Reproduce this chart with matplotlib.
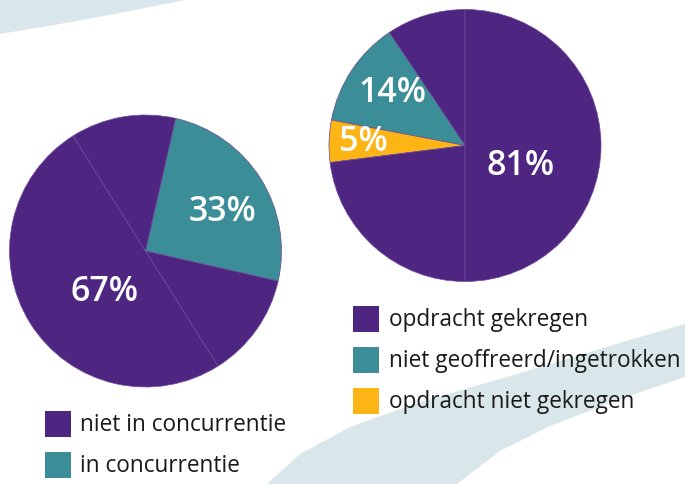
import matplotlib.pyplot as plt
from matplotlib.patches import Polygon, Rectangle

purple = '#4f2582'
teal = '#3b8d97'
yellow = '#fdb515'
band = '#d9e6ea'

# left pie: concurrentie
left_names = ['niet in concurrentie', 'in concurrentie']
left_pct = ['67%', '33%']
# wedge shares as drawn (clockwise, starting with the teal wedge)
left_shares = [25, 12.5, 50, 12.5]
left_colors = [teal, purple, purple, purple]

# right pie: result of the offer
right_names = ['opdracht gekregen', 'niet geoffreerd/ingetrokken', 'opdracht niet gekregen']
right_pct = ['81%', '14%', '5%']
# wedge shares as drawn (counter clockwise from the top)
right_shares = [9.4, 12.6, 5, 23, 50]
right_colors = [purple, teal, yellow, purple, purple]

H = 485


def flip(pts):
    return [(x, H - y) for x, y in pts]


fig = plt.figure(figsize=(6.85, 4.85), dpi=100)
ax = fig.add_axes([0, 0, 1, 1])

# background swooshes
top_band = [(0, 0), (190, 0), (120, 14), (60, 25), (0, 35)]
low_band = [(267, 485), (300, 455), (350, 428), (420, 403), (500, 380), (580, 356),
            (633, 340), (685, 325), (685, 378), (620, 400), (550, 427), (500, 452), (457, 485)]
ax.add_patch(Polygon(flip(top_band), closed=True, facecolor=band, edgecolor='none', zorder=0))
ax.add_patch(Polygon(flip(low_band), closed=True, facecolor=band, edgecolor='none', zorder=0))

edge = dict(edgecolor='#6a4b98', linewidth=0.5)
ax.pie(left_shares, colors=left_colors, startangle=77.2, counterclock=False,
       center=(145.5, H - 252), radius=136, wedgeprops=edge, frame=True)
ax.pie(right_shares, colors=right_colors, startangle=90, counterclock=True,
       center=(465, H - 146.5), radius=136, wedgeprops=edge, frame=True)

pct_font = dict(color='white', fontsize=24.5, fontweight='semibold', family='Open Sans',
                ha='center', va='center')
ax.text(223, H - 212, left_pct[1], **pct_font)
ax.text(104, H - 292, left_pct[0], **pct_font)
ax.text(521, H - 166, right_pct[0], **pct_font)
ax.text(392, H - 93, right_pct[1], **pct_font)
ax.text(363, H - 142, right_pct[2], **pct_font)

# legends
leg_font = dict(color='#1a1a1a', fontsize=16.3, family='Open Sans', ha='left', va='center')
for i, name in enumerate(left_names):
    y = 425 + i * 41
    ax.add_patch(Rectangle((45, H - y - 13), 26, 26, facecolor=[purple, teal][i], edgecolor='none'))
    ax.text(80, H - y, name, **leg_font)

for i, name in enumerate(right_names):
    y = 320 + i * 41
    ax.add_patch(Rectangle((353, H - y - 13), 26, 26, facecolor=[purple, teal, yellow][i],
                           edgecolor='none'))
    ax.text(389, H - y, name, **leg_font)

ax.set_xlim(0, 685)
ax.set_ylim(0, H)
ax.set_aspect('equal')
ax.axis('off')

fig.savefig('out.png', dpi=100, facecolor='white')
